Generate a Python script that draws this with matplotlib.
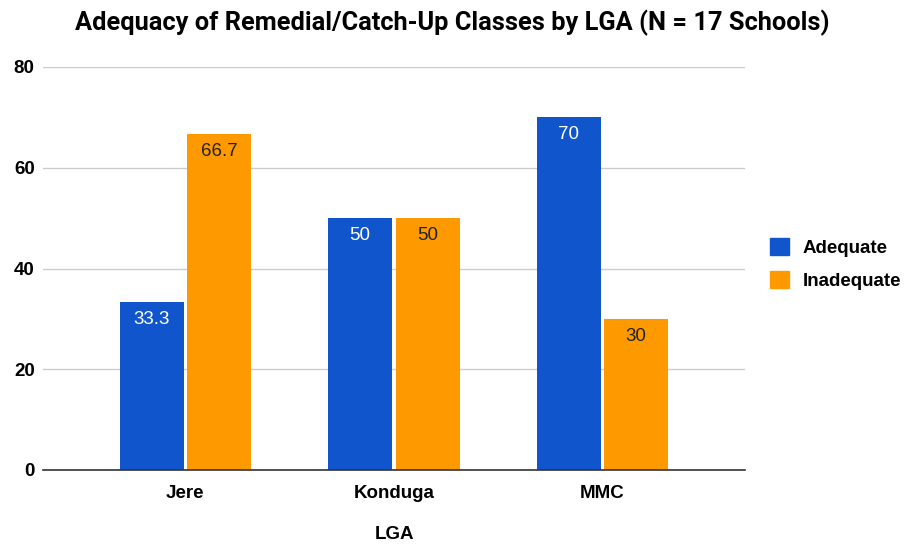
import matplotlib
matplotlib.use("Agg")
import matplotlib.pyplot as plt
import numpy as np
from matplotlib.patches import Patch

plt.rcParams["font.family"] = ["Liberation Sans", "DejaVu Sans"]

CATEGORIES = ["Jere", "Konduga", "MMC"]
ADEQUATE = [33.3, 50, 70]
INADEQUATE = [66.7, 50, 30]
LABELS_A = ["33.3", "50", "70"]
LABELS_I = ["66.7", "50", "30"]
SERIES = ["Adequate", "Inadequate"]
BLUE = "#1155cc"
ORANGE = "#ff9900"

fig = plt.figure(figsize=(9.05, 5.44), dpi=100)
ax = fig.add_axes([43 / 905, 74 / 544, 702 / 905, 403 / 544])

x = np.arange(len(CATEGORIES))
w = 0.307
off = 0.162
ax.bar(x - off, ADEQUATE, width=w, color=BLUE, zorder=3)
ax.bar(x + off, INADEQUATE, width=w, color=ORANGE, zorder=3)

for xi, v, s in zip(x, ADEQUATE, LABELS_A):
    ax.text(xi - off, v - 1.8, s, ha="center", va="top", color="white", fontsize=13.5, zorder=4)
for xi, v, s in zip(x, INADEQUATE, LABELS_I):
    ax.text(xi + off, v - 1.8, s, ha="center", va="top", color="#222222", fontsize=13.5, zorder=4)

ax.set_xlim(-0.683, 2.684)
ax.set_ylim(0, 80)
ax.set_yticks([0, 20, 40, 60, 80])
ax.set_xticks(x)
ax.set_xticklabels(CATEGORIES, fontweight="bold", fontsize=13.5)
for lbl in ax.get_yticklabels():
    lbl.set_fontweight("bold")
    lbl.set_fontsize(13.5)
ax.tick_params(length=0)
ax.tick_params(axis="x", pad=11)
ax.tick_params(axis="y", pad=6)
ax.grid(axis="y", color="#cccccc", linewidth=1, zorder=0)
for s in ["top", "right", "left"]:
    ax.spines[s].set_visible(False)
ax.spines["bottom"].set_color("#333333")
ax.spines["bottom"].set_linewidth(1.2)
ax.spines["bottom"].set_zorder(5)

ax.set_xlabel("LGA", fontweight="bold", fontsize=13.5, labelpad=17)
fig.suptitle("Adequacy of Remedial/Catch-Up Classes by LGA (N = 17 Schools)",
             fontweight="bold", fontsize=18.3, x=0.5, y=0.982, va="top",
             family=["Roboto", "DejaVu Sans"])

handles = [Patch(color=BLUE, label=SERIES[0]), Patch(color=ORANGE, label=SERIES[1])]
fig.legend(handles=handles, loc="center left", bbox_to_anchor=(761 / 905, 1 - 264 / 544),
           frameon=False, prop={"weight": "bold", "size": 13.5}, borderpad=0,
           handlelength=1.0, handleheight=1.0, labelspacing=0.75, handletextpad=0.7)

fig.savefig("out.png", dpi=100)
